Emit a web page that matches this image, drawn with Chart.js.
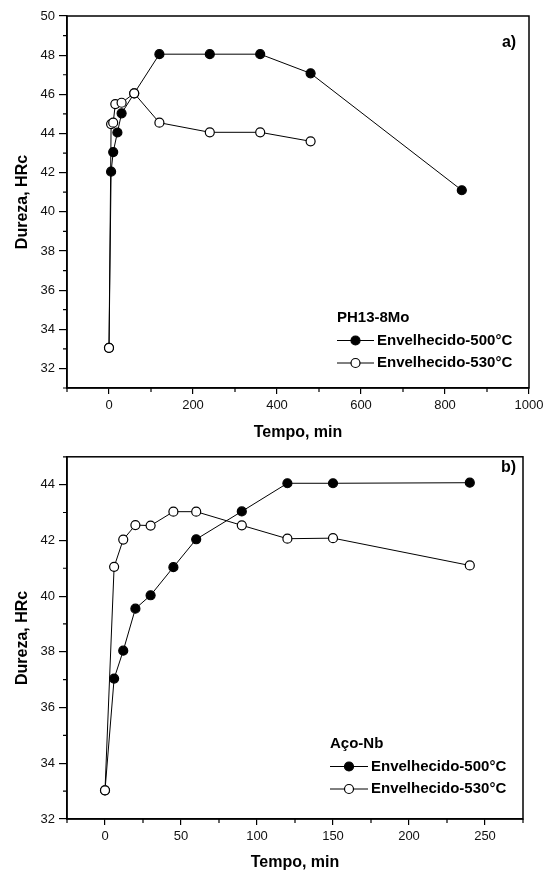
<!DOCTYPE html>
<html>
<head>
<meta charset="utf-8">
<title>Dureza x Tempo</title>
<script src="https://cdn.jsdelivr.net/npm/chart.js@4.4.1/dist/chart.umd.min.js"></script>
<style>
  html, body { margin: 0; padding: 0; background: #fff; }
  #wrap { position: relative; width: 555px; height: 876px; }
  #chartA { position: absolute; left: 0; top: 0; }
  #chartB { position: absolute; left: 0; top: 445px; }
</style>
</head>
<body>
<div id="wrap">
  <canvas id="chartA" width="555" height="445"></canvas>
  <canvas id="chartB" width="555" height="431"></canvas>
</div>
<script>
/* a) PH13-8Mo */
const timeA500 = [0, 5, 10, 20, 30, 60, 120, 240, 360, 480, 840];
const hardA500 = [33.05, 42.05, 43.05, 44.05, 45.03, 46.05, 48.05, 48.05, 48.05, 47.07, 41.1];
const timeA530 = [0, 5, 10, 15, 30, 60, 120, 240, 360, 480];
const hardA530 = [33.05, 44.48, 44.55, 45.5, 45.57, 46.05, 44.55, 44.06, 44.06, 43.6];
const xTicksA = [0, 200, 400, 600, 800, 1000];
const xMinorA = [-100, 100, 300, 500, 700, 900];
const yTicksA = [32, 34, 36, 38, 40, 42, 44, 46, 48, 50];
const yMinorA = [31, 33, 35, 37, 39, 41, 43, 45, 47, 49];

/* b) Aço-Nb */
const timeB = [0, 6, 12, 20, 30, 45, 60, 90, 120, 150, 240];
const hardB500 = [33.03, 37.04, 38.04, 39.55, 40.03, 41.04, 42.04, 43.04, 44.05, 44.05, 44.07];
const hardB530 = [33.03, 41.05, 42.03, 42.55, 42.53, 43.03, 43.03, 42.54, 42.06, 42.08, 41.1];
const xTicksB = [0, 50, 100, 150, 200, 250];
const xMinorB = [-25, 25, 75, 125, 175, 225, 275];
const yTicksB = [32, 34, 36, 38, 40, 42, 44];
const yMinorB = [33, 35, 37, 39, 41, 43, 45];

const labels = ['Envelhecido-500°C', 'Envelhecido-530°C'];
const FONT = '"Liberation Sans", Arial, Helvetica, sans-serif';

function pts(xs, ys) {
  return xs.map((x, i) => ({ x: x, y: ys[i] }));
}

function series(label, data, fill, order) {
  return {
    label: label,
    data: data,
    showLine: true,
    borderColor: '#000',
    borderWidth: 1,
    backgroundColor: fill,
    pointBackgroundColor: fill,
    pointBorderColor: '#000',
    pointBorderWidth: 1.2,
    pointRadius: 4.5,
    order: order
  };
}

// frame, minor ticks, panel tag and the in-plot legend
const framePlugin = {
  id: 'frame',
  afterDraw(chart, args, o) {
    const ctx = chart.ctx, a = chart.chartArea;
    const x = chart.scales.x, y = chart.scales.y;
    ctx.save();
    ctx.strokeStyle = '#000';
    ctx.lineWidth = 1.5;
    ctx.strokeRect(a.left, a.top, a.right - a.left, a.bottom - a.top);

    ctx.lineWidth = 1.2;
    ctx.beginPath();
    o.xMinor.forEach(v => {
      const px = x.getPixelForValue(v);
      ctx.moveTo(px, a.bottom);
      ctx.lineTo(px, a.bottom + 4);
    });
    o.yMinor.forEach(v => {
      const py = y.getPixelForValue(v);
      ctx.moveTo(a.left, py);
      ctx.lineTo(a.left - 4, py);
    });
    ctx.stroke();

    ctx.fillStyle = '#000';
    ctx.textBaseline = 'middle';
    ctx.textAlign = 'center';
    ctx.font = 'bold 16px ' + FONT;
    ctx.fillText(o.tag, o.tagX, o.tagY);

    // legend
    ctx.textAlign = 'left';
    ctx.font = 'bold 15px ' + FONT;
    ctx.fillText(o.title, o.legX, o.legY);
    chart.data.datasets.forEach((ds, i) => {
      const ly = o.legY + (i + 1) * 22.5;
      ctx.lineWidth = 1;
      ctx.beginPath();
      ctx.moveTo(o.legX, ly);
      ctx.lineTo(o.legX + o.sample, ly);
      ctx.stroke();
      ctx.beginPath();
      ctx.arc(o.legX + o.sample / 2, ly, 4.5, 0, Math.PI * 2);
      ctx.fillStyle = ds.pointBackgroundColor;
      ctx.fill();
      ctx.lineWidth = 1.2;
      ctx.stroke();
      ctx.fillStyle = '#000';
      ctx.fillText(ds.label, o.legX + o.sample + 3, ly);
    });
    ctx.restore();
  }
};

function axis(min, max, ticks, size, titleText, isX, titlePad) {
  return {
    type: 'linear',
    min: min,
    max: max,
    afterBuildTicks: s => { s.ticks = ticks.map(v => ({ value: v })); },
    afterFit: s => { if (isX) s.height = size; else s.width = size; },
    grid: { drawOnChartArea: false, tickLength: isX ? 6 : 8, color: '#000', lineWidth: 1.2 },
    border: { display: true, color: '#000', width: 1.5 },
    ticks: {
      color: '#111',
      padding: 4,
      font: { family: FONT, size: 13 },
      callback: v => String(v)
    },
    title: {
      display: true,
      text: titleText,
      color: '#000',
      font: { family: FONT, size: 16, weight: 'bold' },
      padding: titlePad
    }
  };
}

function makeChart(id, datasets, xs, ys, pad, xHeight, frame) {
  return new Chart(document.getElementById(id), {
    type: 'scatter',
    data: { datasets: datasets },
    options: {
      responsive: false,
      animation: false,
      devicePixelRatio: 1,
      layout: { padding: pad },
      plugins: { legend: { display: false }, tooltip: { enabled: false }, frame: frame },
      scales: {
        x: axis(xs.min, xs.max, xs.ticks, xHeight, 'Tempo, min', true, { top: 0, bottom: xs.titlePad }),
        y: axis(ys.min, ys.max, ys.ticks, 67, 'Dureza, HRc', false, { top: 13, bottom: 0 })
      }
    },
    plugins: [framePlugin]
  });
}

makeChart('chartA',
  [series(labels[0], pts(timeA500, hardA500), '#000', 1),
   series(labels[1], pts(timeA530, hardA530), '#fff', 0)],
  { min: -100, max: 1000, ticks: xTicksA, titlePad: 2.4 },
  { min: 31, max: 50, ticks: yTicksA },
  { top: 16, right: 26, left: 0, bottom: 0 }, 57,
  { xMinor: xMinorA, yMinor: yMinorA, tag: 'a)', tagX: 509, tagY: 43,
    title: 'PH13-8Mo', legX: 337, legY: 318, sample: 37 });

makeChart('chartB',
  [series(labels[0], pts(timeB, hardB500), '#000', 1),
   series(labels[1], pts(timeB, hardB530), '#fff', 0)],
  { min: -25, max: 275, ticks: xTicksB, titlePad: 3.7 },
  { min: 32, max: 45, ticks: yTicksB },
  { top: 5, right: 32, left: 0, bottom: 0 }, 57,
  { xMinor: xMinorB, yMinor: yMinorB, tag: 'b)', tagX: 508.5, tagY: 23,
    title: 'Aço-Nb', legX: 330, legY: 299, sample: 38 });
</script>
</body>
</html>
